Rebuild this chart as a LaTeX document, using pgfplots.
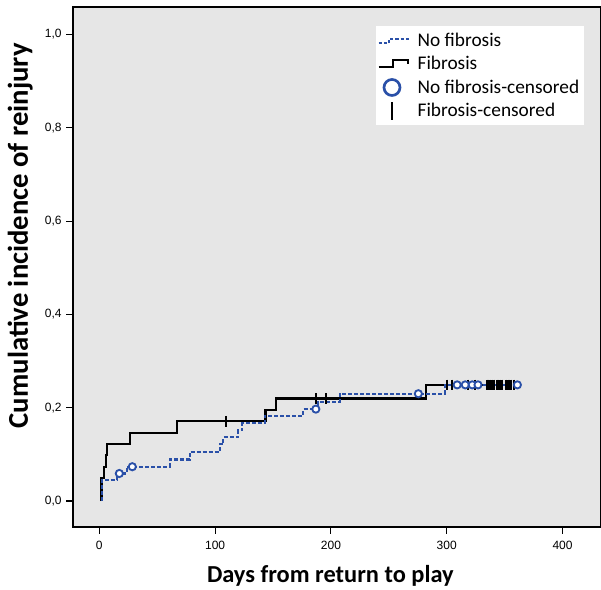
\documentclass[border=0pt]{standalone}
\usepackage{pgfplots}
\pgfplotsset{compat=1.18}
\usepackage{fontspec}
\setmainfont{Liberation Sans}
\newfontfamily\calibri{Carlito}
\definecolor{bgc}{RGB}{230,230,230}
\definecolor{kmblue}{RGB}{42,80,168}

\pgfplotstableread{
x y
2 0
2 0.049
4 0.073
5.5 0.099
6.7 0.122
26.5 0.146
66.8 0.171
143.5 0.195
152.5 0.220
281.8 0.249
356 0.249
}\fibrosis

\pgfplotstableread{
x y
2 0
2 0.045
15 0.059
23.6 0.0735
61 0.089
78.3 0.105
104.2 0.1215
107.1 0.1365
120 0.152
123.5 0.1665
143 0.183
176.2 0.197
189 0.213
207.8 0.230
298.5 0.249
361 0.249
}\nofibrosis

\pgfplotstableread{
x y
109 0.171
187 0.220
196 0.220
300 0.249
304.5 0.249
318.5 0.249
324 0.249
334.5 0.249
336 0.249
337.5 0.249
339 0.249
340.5 0.249
343 0.249
344.5 0.249
346 0.249
347.5 0.249
351 0.249
352.5 0.249
354 0.249
355.5 0.249
358 0.249
}\fibcens

\pgfplotstableread{
x y
17.3 0.059
28.5 0.0735
187 0.197
275.5 0.230
309 0.249
316 0.249
322 0.249
327 0.249
361 0.249
}\nofibcens

\begin{document}
\begin{tikzpicture}
\begin{axis}[
  name=ax,
  scale only axis,
  width=396pt, height=390pt,
  xmin=-22.7, xmax=433.2,
  ymin=-0.0557, ymax=1.059,
  axis background/.style={fill=bgc},
  axis line style={black, line width=0.8pt},
  xtick={0,100,200,300,400},
  ytick={0,0.2,0.4,0.6,0.8,1.0},
  xtick pos=bottom, ytick pos=left,
  tick align=outside,
  major tick length=5pt,
  tick style={black, line width=0.8pt},
  /pgf/number format/assume math mode=true,
  ticklabel style={font=\fontsize{9}{11}\selectfont},
  xticklabel style={yshift=-2pt},
  yticklabel={\pgfmathprintnumber[fixed,fixed zerofill,precision=1,use comma]{\tick}},
  xticklabel={\pgfmathprintnumber[fixed,precision=0]{\tick}},
  xlabel={Days from return to play},
  ylabel={Cumulative incidence of reinjury},
  xlabel style={font=\calibri\bfseries\fontsize{18.3}{21}\selectfont, at={(axis description cs:0.5,0)}, anchor=north, inner sep=0pt, yshift=-28.5pt, xshift=-5pt},
  ylabel style={font=\calibri\bfseries\fontsize{21.5}{25}\selectfont, at={(axis description cs:-0.0758,0.931)}, anchor=south east, inner sep=0pt},
  legend style={draw=none, fill=white, at={(rel axis cs:0.968,0.9635)}, anchor=north east,
    font=\calibri\fontsize{14.5}{17}\selectfont, row sep=2pt, column sep=4.5pt, inner xsep=1.5pt, inner ysep=3pt},
  legend cell align=left,
]
\addlegendimage{legend image code/.code={
  \draw[kmblue, line width=1.5pt, dash pattern=on 2.5pt off 1.5pt] (0pt,-2pt) -- (8pt,-2pt) -- (8pt,1.5pt) -- (22pt,1.5pt) -- (22pt,-0.5pt);}}
\addlegendentry{No fibrosis}
\addlegendimage{legend image code/.code={
  \draw[black, line width=1.5pt] (0pt,-2.5pt) -- (11pt,-2.5pt) -- (11pt,3pt) -- (22pt,3pt) -- (22pt,0pt);}}
\addlegendentry{Fibrosis}
\addlegendimage{legend image code/.code={
  \path[draw=none, fill=none] (0pt,0pt) -- (22pt,0pt);
  \draw[kmblue, line width=2pt, fill=white] (10pt,0pt) circle (6pt);}}
\addlegendentry{No fibrosis-censored}
\addlegendimage{legend image code/.code={
  \path[draw=none, fill=none] (0pt,0pt) -- (22pt,0pt);
  \draw[black, line width=2pt] (10pt,-6.5pt) -- (10pt,6.5pt);}}
\addlegendentry{Fibrosis-censored}

\addplot[forget plot, const plot, black, line width=1.7pt] table {\fibrosis};
\addplot[forget plot, const plot, kmblue, line width=1.6pt, dash pattern=on 3pt off 1.5pt] table {\nofibrosis};
\addplot[forget plot, only marks, mark=|, mark size=4pt, mark options={black, line width=1.5pt}] table {\fibcens};
\addplot[forget plot, only marks, mark=*, mark size=2.7pt, mark options={draw=kmblue, fill=white, line width=1.4pt}] table {\nofibcens};
\end{axis}
\pgfresetboundingbox
\path[use as bounding box] ([xshift=-54.75pt, yshift=-46.5pt]ax.south west) rectangle ([yshift=5.25pt]ax.north east);
\end{tikzpicture}
\end{document}
